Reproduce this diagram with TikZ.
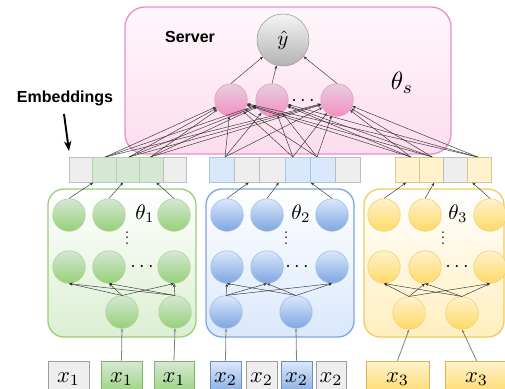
\documentclass[tikz,border=0pt]{standalone}
\usepackage{fontspec}
\usepackage{graphicx}
\newfontfamily\labfont{Liberation Sans}
\usetikzlibrary{arrows.meta,calc}
\definecolor{gLt}{HTML}{D5E8D4}
\definecolor{gDk}{HTML}{97D077}
\definecolor{gNd}{HTML}{AED39A}
\definecolor{bLt}{HTML}{DAE8FC}
\definecolor{bDk}{HTML}{7EA6E0}
\definecolor{bNd}{HTML}{A3BFE8}
\definecolor{yLt}{HTML}{FFF2CC}
\definecolor{yDk}{HTML}{FFD966}
\definecolor{yNd}{HTML}{F0D27A}
\definecolor{pLt}{HTML}{E6CEDC}
\definecolor{pDk}{HTML}{F48FC4}
\definecolor{pNd}{HTML}{E0A0C4}
\definecolor{srvB}{HTML}{E88FC8}
\definecolor{srvTop}{HTML}{FFF7FB}
\definecolor{srvBot}{HTML}{FCDDEE}
\definecolor{gBox}{HTML}{97D077}
\definecolor{gBoxF}{HTML}{DCEFD2}
\definecolor{bBox}{HTML}{7EA6E0}
\definecolor{bBoxF}{HTML}{DAE8FC}
\definecolor{yBox}{HTML}{F2CC5C}
\definecolor{yBoxF}{HTML}{FFEFBF}
\definecolor{cellGray}{HTML}{EEEEEE}
\definecolor{cellGrayD}{HTML}{BDBDBD}
\definecolor{cellGreenD}{HTML}{B5D4AC}
\definecolor{cellBlueD}{HTML}{A9C4EB}
\definecolor{cellYellowD}{HTML}{D9C68E}
\definecolor{inGrayD}{HTML}{9E9E9E}
\definecolor{inGreenD}{HTML}{82B366}
\definecolor{inBlueD}{HTML}{6C8EBF}
\definecolor{inYellowD}{HTML}{D6B656}
\definecolor{conncol}{HTML}{333333}
\newcommand{\bigmath}[2]{\scalebox{#1}{$#2$}}
\newcommand{\tightvdots}{\vbox{\fontsize{20}{20}\selectfont\baselineskip5.7pt\lineskiplimit-20pt\lineskip0pt\hbox{.}\hbox{.}\hbox{.}}}
\begin{document}
\begin{tikzpicture}[x=1pt,y=-1pt,
  neuron/.style={circle, inner sep=0pt, minimum size=32.5pt, line width=0.6pt},
  gN/.style={neuron, draw=gNd, top color=gLt, bottom color=gDk},
  bN/.style={neuron, draw=bNd, top color=bLt, bottom color=bDk},
  yN/.style={neuron, draw=yNd, top color=yLt, bottom color=yDk},
  pN/.style={neuron, draw=pNd, top color=pLt, bottom color=pDk},
  outN/.style={circle, inner sep=0pt, minimum size=52pt, line width=0.6pt, draw=gray!75, top color=black!4, bottom color=black!30},
  clientbox/.style={rounded corners=16pt, minimum width=148pt, minimum height=148pt, line width=1.3pt, inner sep=0pt},
  cellbox/.style={minimum height=25pt, inner sep=0pt, anchor=north west, line width=0.6pt},
  cGray/.style={cellbox, fill=cellGray, draw=cellGrayD},
  cGreen/.style={cellbox, fill=gLt, draw=cellGreenD},
  cBlue/.style={cellbox, fill=bLt, draw=cellBlueD},
  cYellow/.style={cellbox, fill=yLt, draw=cellYellowD},
  inbox/.style={minimum height=36pt, inner sep=0pt, line width=0.7pt},
  inGray/.style={inbox, fill=cellGray, draw=inGrayD},
  inGreen/.style={inbox, top color=gLt, bottom color=gDk, draw=inGreenD},
  inBlue/.style={inbox, top color=bLt, bottom color=bDk, draw=inBlueD},
  inYellow/.style={inbox, top color=yLt, bottom color=yDk, draw=inYellowD},
  conn/.style={draw=conncol, line width=0.45pt, -{Stealth[length=3.4pt,width=2.8pt]}},
  inarrow/.style={draw=black!50, line width=0.8pt, -{Stealth[length=3.2pt,width=2.8pt]}},
  plainlab/.style={inner sep=0pt},
  sanslab/.style={font=\labfont\bfseries\fontsize{16}{19}\selectfont, inner sep=0pt}
]
\path[use as bounding box] (0,0) rectangle (505,388);
\clip (0,0) rectangle (505,388);
\fill[white] (0,0) rectangle (505,388);

% server box
\node[rounded corners=20pt, minimum width=326pt, minimum height=147pt, line width=1.3pt, draw=srvB, top color=srvTop, bottom color=srvBot, inner sep=0pt] (server) at (288,80.5) {};
% client boxes
\node[clientbox, draw=gBox, top color=white, bottom color=gBoxF] (box1) at (122,263) {};
\node[clientbox, draw=bBox, top color=white, bottom color=bBoxF] (box2) at (280,263) {};
\node[clientbox, minimum width=140pt, draw=yBox, top color=white, bottom color=yBoxF] (box3) at (434,263) {};

% labels
\node[sanslab] (srvlab) at (190,37) {Server};
\node[sanslab] (emblab) at (65,98) {Embeddings};
\node[plainlab] (ths) at (402,83) {\bigmath{2.5}{\theta_s}};
\coordinate (embA) at (64,114);
\coordinate (embB) at (69,151);
\draw[line width=1.9pt, -{Stealth[length=10pt,width=7.5pt]}] (embA) -- (embB);

% server nodes
\node[outN] (yhat) at (283,40) {\bigmath{2.1}{\hat{y}}};
\node[pN] (p1) at (231,100) {};
\node[pN] (p2) at (272,100) {};
\node[pN] (p3) at (337,100) {};
\node[plainlab] (pd) at (303,101) {\bigmath{2}{\cdots}};

% embedding bars
\foreach \i/\s in {1/cGray,2/cGreen,3/cGreen,4/cGreen,5/cGray}
  \node[\s, minimum width=23.4pt] (e1-\i) at ({69+(\i-1)*23.4},157) {};
\foreach \i/\s in {1/cBlue,2/cGray,3/cGray,4/cBlue,5/cBlue,6/cGray}
  \node[\s, minimum width=25.2pt] (e2-\i) at ({209+(\i-1)*25.2},157) {};
\foreach \i/\s in {1/cYellow,2/cYellow,3/cGray,4/cYellow}
  \node[\s, minimum width=24pt] (e3-\i) at ({395+(\i-1)*24},157) {};

% green client
\node[gN] (g11) at (69,215) {};
\node[gN] (g12) at (109,215) {};
\node[gN] (g13) at (174,215) {};
\node[gN] (g21) at (69,267) {};
\node[gN] (g22) at (109,267) {};
\node[gN] (g23) at (174,267) {};
\node[gN] (g31) at (122,312) {};
\node[gN] (g32) at (175,312) {};
\node[plainlab] (th1) at (145,214) {\bigmath{2.1}{\theta_1}};
\node[plainlab] (gv) at (127,238) {\tightvdots};
\node[plainlab] (gh) at (142,267) {\bigmath{2}{\cdots}};

% blue client
\node[bN] (b11) at (227,215) {};
\node[bN] (b12) at (267,215) {};
\node[bN] (b13) at (332,215) {};
\node[bN] (b21) at (227,267) {};
\node[bN] (b22) at (267,267) {};
\node[bN] (b23) at (332,267) {};
\node[bN] (b31) at (226,312) {};
\node[bN] (b32) at (296,312) {};
\node[plainlab] (th2) at (301,214) {\bigmath{2.1}{\theta_2}};
\node[plainlab] (bv) at (286,238) {\tightvdots};
\node[plainlab] (bh) at (297,267) {\bigmath{2}{\cdots}};

% yellow client
\node[yN] (y11) at (384,215) {};
\node[yN] (y12) at (425,215) {};
\node[yN] (y13) at (490,215) {};
\node[yN] (y21) at (384,267) {};
\node[yN] (y22) at (425,267) {};
\node[yN] (y23) at (490,267) {};
\node[yN] (y31) at (409,313) {};
\node[yN] (y32) at (462,313) {};
\node[plainlab] (th3) at (458,214) {\bigmath{2.1}{\theta_3}};
\node[plainlab] (yv) at (443,238) {\tightvdots};
\node[plainlab] (yh) at (457,267) {\bigmath{2}{\cdots}};

% inputs
\node[inGray, minimum width=41pt] (i11) at (68.5,379) {\bigmath{2.25}{x_1}};
\node[inGreen, minimum width=41pt] (i12) at (121.5,379) {\bigmath{2.25}{x_1}};
\node[inGreen, minimum width=40pt] (i13) at (174,379) {\bigmath{2.25}{x_1}};
\node[inBlue, minimum width=31pt] (i21) at (225.5,379) {\bigmath{2.25}{x_2}};
\node[inGray, minimum width=31pt] (i22) at (261.5,379) {\bigmath{2.25}{x_2}};
\node[inBlue, minimum width=31pt] (i23) at (296.5,379) {\bigmath{2.25}{x_2}};
\node[inGray, minimum width=30pt] (i24) at (331,379) {\bigmath{2.25}{x_2}};
\node[inYellow, minimum width=63pt] (i31) at (397.5,379) {\bigmath{2.25}{x_3}};
\node[inYellow, minimum width=63pt] (i32) at (476.5,379) {\bigmath{2.25}{x_3}};

% source points on bars (top)
\coordinate (sg1) at ($(e1-2.north west)!0.54!(e1-2.north east)$);
\coordinate (sg2) at ($(e1-3.north west)!0.55!(e1-3.north east)$);
\coordinate (sg3) at ($(e1-4.north west)!0.47!(e1-4.north east)$);
\coordinate (sb1) at ($(e2-1.north west)!0.62!(e2-1.north east)$);
\coordinate (sb2) at ($(e2-4.north west)!0.32!(e2-4.north east)$);
\coordinate (sb3) at ($(e2-5.north west)!0.28!(e2-5.north east)$);
\coordinate (sy1) at ($(e3-1.north west)!0.64!(e3-1.north east)$);
\coordinate (sy2) at ($(e3-2.north west)!0.54!(e3-2.north east)$);
\coordinate (sy3) at ($(e3-4.north west)!0.43!(e3-4.north east)$);
% target points on bars (bottom)
\coordinate (tg1) at ($(e1-2.south west)!0.03!(e1-2.south east)$);
\coordinate (tg2) at ($(e1-3.south west)!0.30!(e1-3.south east)$);
\coordinate (tg3) at ($(e1-4.south west)!0.72!(e1-4.south east)$);
\coordinate (tb1) at ($(e2-2.south west)!0.56!(e2-2.south east)$);
\coordinate (tb2) at ($(e2-3.south west)!0.75!(e2-3.south east)$);
\coordinate (tb3) at ($(e2-5.south west)!0.04!(e2-5.south east)$);
\coordinate (ty1) at ($(e3-1.south west)!0.45!(e3-1.south east)$);
\coordinate (ty2) at ($(e3-2.south west)!0.62!(e3-2.south east)$);
\coordinate (ty3) at ($(e3-4.south west)!0.22!(e3-4.south east)$);

% edges: bars -> server hidden layer
\foreach \s in {sg1,sg2,sg3,sb1,sb2,sb3,sy1,sy2,sy3}
  \foreach \t in {p1,p2,p3}
    \draw[conn] (\s) -- (\t);
% hidden -> output
\foreach \t in {p1,p2,p3}
  \draw[conn] (\t.north) -- (yhat);
% client top -> bars
\draw[conn] (g11.north) -- (tg1);
\draw[conn] (g12.north) -- (tg2);
\draw[conn] (g13.north) -- (tg3);
\draw[conn] (b11.north) -- (tb1);
\draw[conn] (b12.north) -- (tb2);
\draw[conn] (b13.north) -- (tb3);
\draw[conn] (y11.north) -- (ty1);
\draw[conn] (y12.north) -- (ty2);
\draw[conn] (y13.north) -- (ty3);
% client internal
\foreach \c in {g,b,y}
  \foreach \i in {1,2}
    \foreach \j in {1,2,3}
      \draw[conn] (\c3\i.north) -- (\c2\j.south);
% inputs
\draw[inarrow] (i12.north) -- (g31.south);
\draw[inarrow] (i13.north) -- (g32.south);
\draw[inarrow] (i21.north) -- (b31.south);
\draw[inarrow] (i23.north) -- (b32.south);
\draw[inarrow] (i31.north) -- (y31.south);
\draw[inarrow] (i32.north) -- (y32.south);
\end{tikzpicture}
\end{document}
